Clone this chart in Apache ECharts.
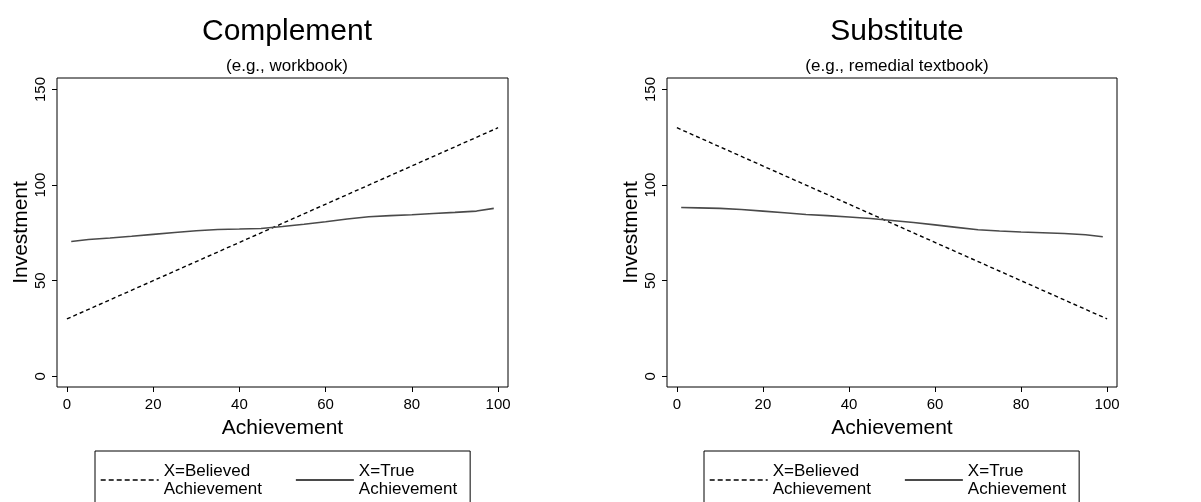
<!DOCTYPE html>
<html><head><meta charset="utf-8">
<script src="https://cdn.jsdelivr.net/npm/echarts@6/dist/echarts.min.js"></script>
<style>html,body{margin:0;padding:0;background:#fff}#c{width:1201px;height:502px}</style>
</head><body><div id="c"></div>
<script>
var xTicks = [0, 20, 40, 60, 80, 100];
var yTicks = [0, 50, 100, 150];
var panelTitles = ['Complement', 'Substitute'];
var panelSubtitles = ['(e.g., workbook)', '(e.g., remedial textbook)'];
var seriesNames = ['X=Believed\nAchievement', 'X=True\nAchievement'];

var believedX = [0, 100];
var compBelievedY = [30, 130];
var subBelievedY = [130, 30];

var trueX = [1, 5, 10, 15, 20, 25, 30, 35, 40, 45, 50, 55, 60, 65, 70, 75, 80, 85, 90, 95, 99];
var compTrueY = [70.5, 71.5, 72.3, 73.2, 74.2, 75.2, 76.1, 76.8, 77.0, 77.3, 78.3, 79.5, 80.8, 82.3, 83.4, 84.0, 84.5, 85.1, 85.7, 86.4, 87.8];
var subTrueY = [88.3, 88.1, 87.8, 87.2, 86.4, 85.5, 84.6, 84.0, 83.3, 82.5, 81.5, 80.4, 79.2, 77.9, 76.6, 76.0, 75.5, 75.1, 74.7, 74.0, 73.0];

function pairs(xs, ys) { return xs.map(function (x, i) { return [x, ys[i]]; }); }

var FONT = 'Liberation Sans, Arial, Helvetica, sans-serif';
var grids = [
  { left: 57, top: 78, width: 451, height: 309 },
  { left: 667, top: 78, width: 450, height: 309 }
];
var centers = [282, 892];

var option = {
  backgroundColor: '#fff',
  animation: false,
  textStyle: { fontFamily: FONT, color: '#000' },
  title: [],
  grid: grids.map(function (g) { return Object.assign({ show: true, borderColor: '#000', borderWidth: 1, backgroundColor: '#fff' }, g); }),
  xAxis: [], yAxis: [], series: [], legend: []
};

for (var p = 0; p < 2; p++) {
  option.title.push({
    text: panelTitles[p], subtext: panelSubtitles[p],
    left: centers[p], top: 12, textAlign: 'center', itemGap: 11,
    textStyle: { fontFamily: FONT, fontSize: 30, fontWeight: 'normal', color: '#000' },
    subtextStyle: { fontFamily: FONT, fontSize: 17, color: '#000' }
  });
  option.xAxis.push({
    gridIndex: p, type: 'value', min: -2.3, max: 102.3,
    name: 'Achievement', nameLocation: 'middle', nameGap: 31,
    nameTextStyle: { fontFamily: FONT, fontSize: 21, color: '#000' },
    axisLine: { show: false, onZero: false }, splitLine: { show: false },
    axisTick: { show: true, length: 5, customValues: xTicks, lineStyle: { color: '#000' } },
    axisLabel: { customValues: xTicks, fontFamily: FONT, fontSize: 15, color: '#000', margin: 10 }
  });
  option.yAxis.push({
    gridIndex: p, type: 'value', min: -5.6, max: 156,
    name: 'Investment', nameLocation: 'middle', nameGap: 25, nameRotate: 90,
    nameTextStyle: { fontFamily: FONT, fontSize: 21, color: '#000' },
    axisLine: { show: false, onZero: false }, splitLine: { show: false },
    axisTick: { show: true, length: 5, customValues: yTicks, lineStyle: { color: '#000' } },
    axisLabel: { customValues: yTicks, rotate: 90, fontFamily: FONT, fontSize: 15, color: '#000', margin: 9 }
  });
  option.series.push({
    name: seriesNames[0], type: 'line', xAxisIndex: p, yAxisIndex: p, symbol: 'none',
    data: pairs(believedX, p === 0 ? compBelievedY : subBelievedY),
    lineStyle: { color: '#000', width: 1.4, type: [4, 3] }, itemStyle: { color: '#000' }
  });
  option.series.push({
    name: seriesNames[1], type: 'line', xAxisIndex: p, yAxisIndex: p, symbol: 'none',
    data: pairs(trueX, p === 0 ? compTrueY : subTrueY),
    lineStyle: { color: '#4a4a4a', width: 1.6, type: 'solid' }, itemStyle: { color: '#4a4a4a' }
  });
  option.legend.push({
    data: [
      { name: seriesNames[0], lineStyle: { type: [5, 3], width: 1.4, color: '#000' } },
      { name: seriesNames[1], lineStyle: { type: 'solid', width: 1.8, color: '#4a4a4a' } }
    ],
    left: p === 0 ? 95 : 704, top: 451, orient: 'horizontal',
    itemWidth: 58, itemHeight: 14, itemGap: 33,
    padding: [11, 13, 30, 5], borderColor: '#000', borderWidth: 1, backgroundColor: '#fff',
    selectedMode: false,
    itemStyle: { opacity: 0 },
    textStyle: { fontFamily: FONT, fontSize: 17, lineHeight: 18, color: '#000' }
  });
}

var chart = echarts.init(document.getElementById('c'), null, { renderer: 'canvas' });
chart.setOption(option);
</script></body></html>
